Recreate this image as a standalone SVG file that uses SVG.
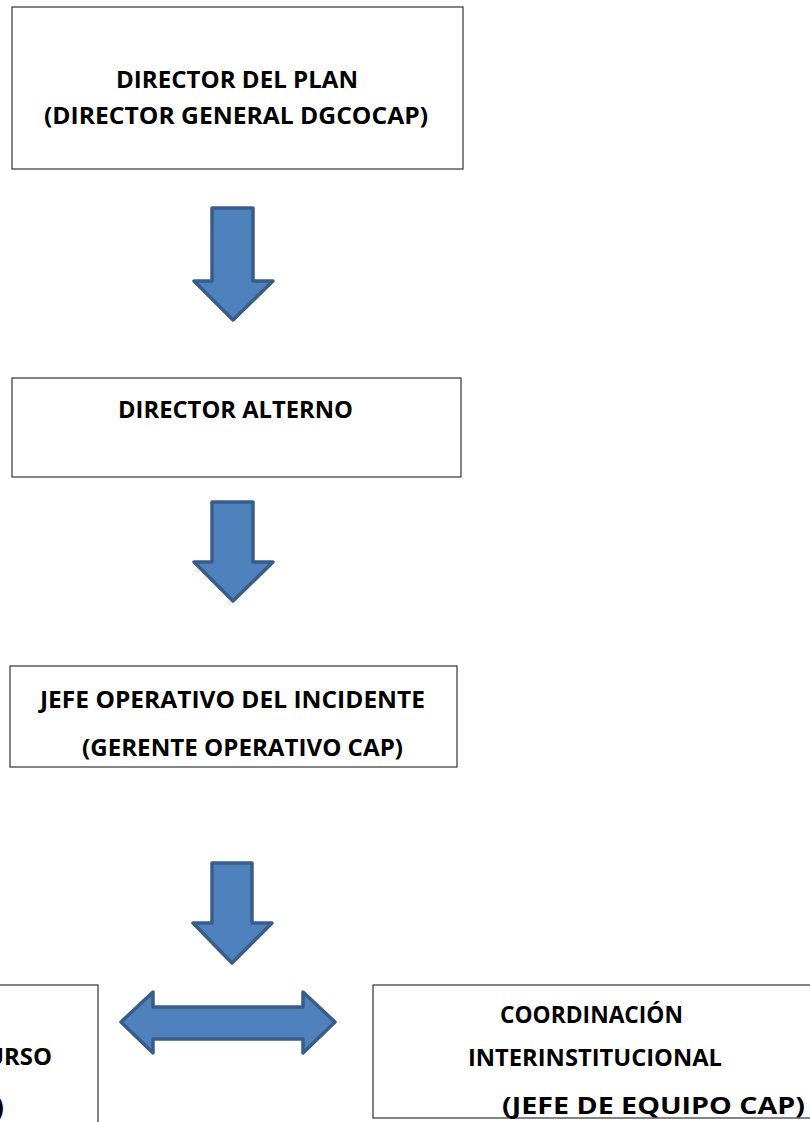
<svg xmlns="http://www.w3.org/2000/svg" width="810" height="1122" viewBox="0 0 810 1122">
<style>
.box{fill:#fff;stroke:#333;stroke-width:1.2}
.t{font-family:"Open Sans","Liberation Sans",Arial,sans-serif;font-weight:bold;font-size:22.5px;fill:#000}
.arr{fill:#4f81bd;stroke:#385d8a;stroke-width:3.5;stroke-linejoin:round}
</style>
<rect width="810" height="1122" fill="#fff"/>
<g id="node-director-plan">
<rect class="box" x="12" y="7" width="451" height="162"/>
<text class="t" x="116" y="87.5" textLength="242" lengthAdjust="spacingAndGlyphs">DIRECTOR DEL PLAN</text>
<text class="t" x="44" y="123.5" textLength="384" lengthAdjust="spacingAndGlyphs">(DIRECTOR GENERAL DGCOCAP)</text>
</g>
<g id="node-director-alterno">
<rect class="box" x="12" y="378" width="449" height="99"/>
<text class="t" x="118" y="418" textLength="235" lengthAdjust="spacingAndGlyphs">DIRECTOR ALTERNO</text>
</g>
<g id="node-jefe-operativo">
<rect class="box" x="10" y="666" width="447" height="101"/>
<text class="t" x="40" y="707.5" textLength="385" lengthAdjust="spacingAndGlyphs">JEFE OPERATIVO DEL INCIDENTE</text>
<text class="t" x="82" y="755.5" textLength="321" lengthAdjust="spacingAndGlyphs">(GERENTE OPERATIVO CAP)</text>
</g>
<g id="node-left">
<rect class="box" x="-10" y="985" width="108" height="150"/>
<text class="t" x="52" y="1065" text-anchor="end" textLength="66" lengthAdjust="spacingAndGlyphs">URSO</text>
<text class="t" x="4" y="1116" text-anchor="end" style="font-size:27px">)</text>
</g>
<g id="node-coordinacion">
<rect class="box" x="373" y="985" width="450" height="133"/>
<text class="t" x="500" y="1022.5" textLength="183" lengthAdjust="spacingAndGlyphs">COORDINACIÓN</text>
<text class="t" x="468" y="1065.5" textLength="254" lengthAdjust="spacingAndGlyphs">INTERINSTITUCIONAL</text>
<text class="t" x="502" y="1113.5" textLength="303" lengthAdjust="spacingAndGlyphs">(JEFE DE EQUIPO CAP)</text>
</g>
<g id="connectors">
<path class="arr" d="M212,208 H253 V281 H273 L233,320 L194,281 H212 Z"/>
<path class="arr" d="M212,502 H253 V562 H273 L233,601 L194,562 H212 Z"/>
<path class="arr" d="M212,863 H252 V923 H272 L232,963 L193,923 H212 Z"/>
<path class="arr" d="M121,1022 L153,992 V1007 H303 V992 L335,1022 L303,1053 V1039 H153 V1053 Z"/>
</g>
</svg>
